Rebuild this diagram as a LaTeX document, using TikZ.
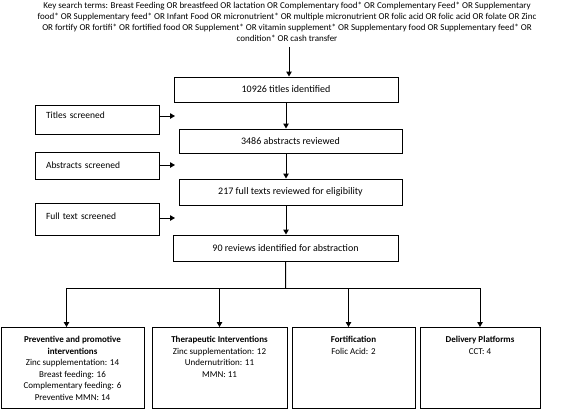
\documentclass[tikz,border=0pt]{standalone}
\usepackage{fontspec}
\setmainfont{Carlito}
\usetikzlibrary{arrows.meta,positioning}

\tikzset{
  flowbox/.style={draw, line width=1pt, rectangle, inner sep=0pt, font=\fontsize{10}{12}\selectfont},
  sidebox/.style={flowbox, minimum width=124pt, text width=102pt, align=left, font=\fontsize{9.5}{11}\selectfont},
  catbox/.style={draw, line width=1pt, rectangle, minimum height=81pt, inner sep=0pt},
  cattext/.style={anchor=north, align=center, inner sep=0pt, font=\fontsize{9}{11.5}\selectfont},
  link/.style={line width=1pt, -{Triangle[length=5pt,width=5.5pt]}},
}

\begin{document}
\begin{tikzpicture}[x=1pt,y=-1pt]
\useasboundingbox (0,0) rectangle (567,410);

% search terms
\node[anchor=north, align=center, inner sep=1.5pt, font=\fontsize{9}{11}\selectfont] (terms) at (287,0)
  {Key search terms: Breast Feeding OR breastfeed OR lactation OR Complementary food* OR Complementary Feed* OR Supplementary\\
   food* OR Supplementary feed* OR Infant Food OR micronutrient* OR multiple micronutrient OR folic acid OR folic acid OR folate OR Zinc\\
   OR fortify OR fortifi* OR fortified food OR Supplement* OR vitamin supplement* OR Supplementary food OR Supplementary feed* OR\\
   condition* OR cash transfer};

% main column
\node[flowbox, minimum width=224pt, minimum height=25pt] (titles) at (286,89.5) {10926 titles identified};
\node[flowbox, minimum width=223pt, minimum height=24pt] (abstracts) at (290.5,141) {3486 abstracts reviewed};
\node[flowbox, minimum width=223pt, minimum height=26pt] (fulltexts) at (290.5,192) {217 full texts reviewed for eligibility};
\node[flowbox, minimum width=225pt, minimum height=26pt] (reviews) at (285.5,248) {90 reviews identified for abstraction};

% screening boxes
\node[sidebox, minimum height=29pt, text depth=8pt] (scrtitles) at (97,119.5) {Titles screened};
\node[sidebox, minimum height=27pt] (scrabstracts) at (97,165.5) {Abstracts screened};
\node[sidebox, minimum height=32pt, text depth=5pt] (scrfull) at (97,219) {Full text screened};
\coordinate (t1) at (175,116);
\coordinate (t2) at (175,165);
\coordinate (t3) at (175,218);

\draw[link] ([xshift=2pt,yshift=-4pt]terms.south) -- ([xshift=2pt]terms.south |- titles.north);
\draw[link] (titles.south) -- (titles.south |- abstracts.north);
\draw[link] (titles.south |- abstracts.south) -- (titles.south |- fulltexts.north);
\draw[link] (titles.south |- fulltexts.south) -- (titles.south |- reviews.north);

\draw[link] (scrtitles.east |- t1) -- (t1);
\draw[link] (scrabstracts.east |- t2) -- (t2);
\draw[link] (scrfull.east |- t3) -- (t3);

% categories
\node[catbox, minimum width=143pt] (prev) at (72.5,368) {};
\node[catbox, minimum width=135pt] (ther) at (219.5,368) {};
\node[catbox, minimum width=123pt] (fort) at (353.5,368) {};
\node[catbox, minimum width=120pt] (deliv) at (480,368) {};

\node[cattext] (prevtxt) at ([yshift=-9pt]prev.north)
  {\textbf{Preventive and promotive}\\\textbf{interventions}\\Zinc supplementation: 14\\Breast feeding: 16\\Complementary feeding: 6\\Preventive MMN: 14};
\node[cattext] (thertxt) at ([yshift=-9pt]ther.north)
  {\textbf{Therapeutic Interventions}\\Zinc supplementation: 12\\Undernutrition: 11\\MMN: 11};
\node[cattext] (forttxt) at ([yshift=-9pt]fort.north)
  {\textbf{Fortification}\\Folic Acid: 2};
\node[cattext] (delivtxt) at ([yshift=-9pt]deliv.north)
  {\textbf{Delivery Platforms}\\CCT: 4};

\coordinate (split) at (285.7,288);
\draw[line width=1pt] (reviews.south) -- (split);
\foreach \b/\dx in {prev/-6,ther/0,fort/-5,deliv/0}
  \draw[link] (split) -| ([xshift=\dx pt]\b.north);
\end{tikzpicture}
\end{document}
